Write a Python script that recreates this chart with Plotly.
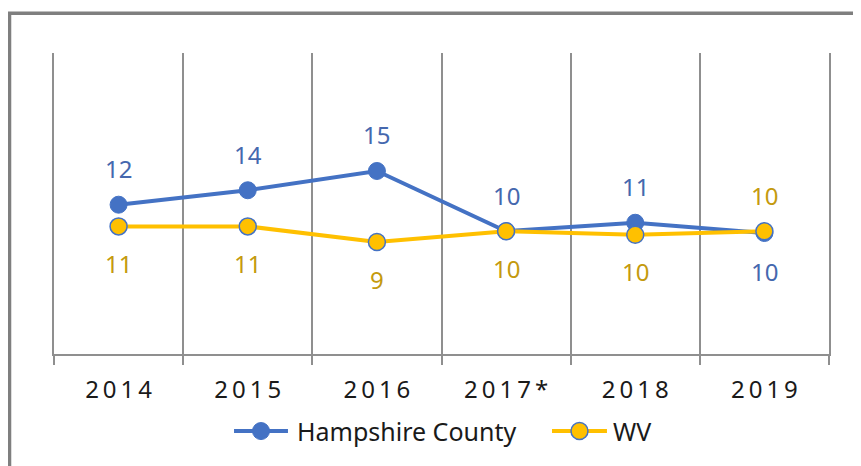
import plotly.graph_objects as go

years = ["2014", "2015", "2016", "2017*", "2018", "2019"]

hampshire = [12.4, 13.6, 15.2, 10.2, 10.9, 10.05]
hampshire_labels = ["12", "14", "15", "10", "11", "10"]

wv = [10.6, 10.6, 9.3, 10.2, 9.9, 10.2]
wv_labels = ["11", "11", "9", "10", "10", "10"]

series_names = ["Hampshire County", "WV"]

BLUE = "#4472C4"
GOLD = "#FFC000"
BLUE_TXT = "#4568AE"
GOLD_TXT = "#C49A0E"
GRID = "#8f8f8f"
FONT = "Noto Sans"

# the axis labels in the source are letter-spaced
spaced_years = ["\u2009".join(y) for y in years]

fig = go.Figure()

fig.add_trace(go.Scatter(
    x=years, y=hampshire, name=series_names[0],
    mode="lines+markers",
    line=dict(color=BLUE, width=4),
    marker=dict(color=BLUE, size=17, line=dict(color=BLUE, width=1)),
))
fig.add_trace(go.Scatter(
    x=years, y=wv, name=series_names[1],
    mode="lines+markers",
    line=dict(color=GOLD, width=4),
    marker=dict(color=GOLD, size=17, line=dict(color=BLUE, width=1.5)),
))

# data labels: Hampshire above (last one below), WV below (last one above)
last = len(years) - 1
for i, (v, lab) in enumerate(zip(hampshire, hampshire_labels)):
    shift = -38 if i == last else 36
    fig.add_annotation(x=i, y=v, text=lab, showarrow=False, yshift=shift,
                       font=dict(family=FONT, size=24, color=BLUE_TXT))
for i, (v, lab) in enumerate(zip(wv, wv_labels)):
    shift = 36 if i == last else -37
    fig.add_annotation(x=i, y=v, text=lab, showarrow=False, yshift=shift,
                       font=dict(family=FONT, size=24, color=GOLD_TXT))

# outer chart frame (only top and left edges visible)
fig.add_shape(type="rect", xref="paper", yref="paper",
              x0=-0.0574, x1=1.3, y0=-0.6, y1=1.132,
              line=dict(color="#7f7f7f", width=3.5), layer="below")

# hand-drawn legend, Excel-style long line keys
leg_y = -0.256
legend_items = [
    (0.2323, 0.3019, 0.311, BLUE, BLUE, 1),
    (0.6426, 0.7135, 0.7187, GOLD, BLUE, 1.5),
]
for name, (x0, x1, tx, col, edge, ew) in zip(series_names, legend_items):
    fig.add_shape(type="line", xref="paper", yref="paper",
                  x0=x0, x1=x1, y0=leg_y, y1=leg_y,
                  line=dict(color=col, width=4))
    fig.add_shape(type="circle", xref="paper", yref="paper",
                  xsizemode="pixel", ysizemode="pixel",
                  xanchor=(x0 + x1) / 2, yanchor=leg_y,
                  x0=-8.5, x1=8.5, y0=-8.5, y1=8.5,
                  fillcolor=col, line=dict(color=edge, width=ew))
    fig.add_annotation(xref="paper", yref="paper", x=tx, y=leg_y,
                       xanchor="left", yanchor="middle", showarrow=False,
                       text=name, font=dict(family=FONT, size=25, color="#1a1a1a"))

fig.update_layout(
    width=861, height=466,
    margin=dict(l=46, r=40, t=45, b=120),
    paper_bgcolor="white", plot_bgcolor="white",
    font=dict(family=FONT, size=24, color="#1a1a1a"),
    showlegend=False,
    xaxis=dict(
        type="category", range=[-0.5, 5.5],
        tickmode="array", tickvals=years, ticktext=spaced_years,
        tickson="boundaries", showgrid=True, gridcolor=GRID, gridwidth=1.5,
        showline=True, linecolor=GRID, linewidth=1.5,
        ticks="outside", ticklen=9, tickcolor=GRID, tickwidth=1.5,
        ticklabelstandoff=13,
        tickfont=dict(family=FONT, size=24, color="#1a1a1a"),
    ),
    yaxis=dict(
        range=[0, 25], visible=True, showgrid=False, zeroline=False,
        showticklabels=False, ticks="",
        showline=True, mirror=True, linecolor=GRID, linewidth=1.5,
    ),
)

fig.write_html("out.html")
